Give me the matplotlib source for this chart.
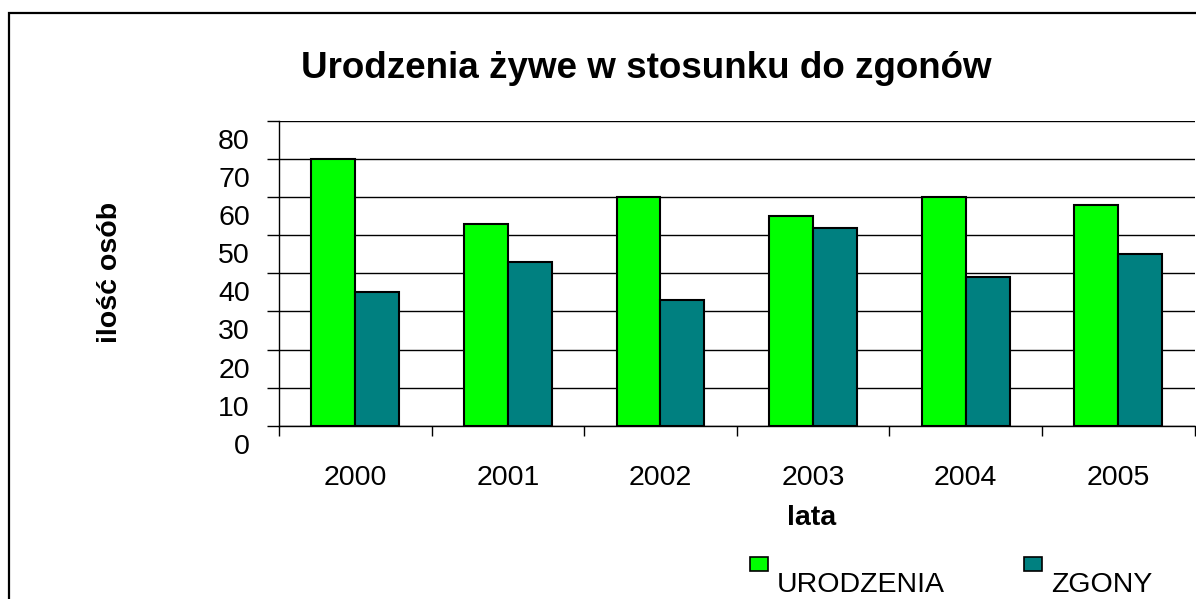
import matplotlib
matplotlib.use("Agg")
import matplotlib.pyplot as plt
from matplotlib.patches import Rectangle
from matplotlib.transforms import ScaledTranslation
import numpy as np

years = ["2000", "2001", "2002", "2003", "2004", "2005"]
urodzenia = [70, 53, 60, 55, 60, 58]
zgony = [35, 43, 33, 52, 39, 45]
series_names = ["URODZENIA", "ZGONY"]
series_colors = ["#00FF00", "#008080"]
y_ticks = [0, 10, 20, 30, 40, 50, 60, 70, 80]

plt.rcParams['font.family'] = ['Liberation Sans', 'DejaVu Sans']

W, H = 1196, 599
fig = plt.figure(figsize=(W / 100, H / 100), dpi=100)

# outer chart frame
fig.add_artist(Rectangle((8.5 / W, -0.1), 1.2, 1 - 13 / H + 0.1, transform=fig.transFigure,
                         fill=False, edgecolor='black', linewidth=1.6))

ax = fig.add_axes([279 / W, 1 - 425.7 / H, (1194.5 - 279) / W, (425.7 - 121) / H])
x = np.arange(len(years))
bw = 0.288
ax.bar(x - bw / 2, urodzenia, bw, color=series_colors[0], edgecolor='black', linewidth=1.5, zorder=3)
ax.bar(x + bw / 2, zgony, bw, color=series_colors[1], edgecolor='black', linewidth=1.5, zorder=3)

ax.set_xlim(-0.5, len(years) - 0.5)
ax.set_ylim(0, 80)
ax.set_yticks(y_ticks)
ax.set_yticklabels([str(v) for v in y_ticks], fontsize=20.5)
ax.yaxis.grid(True, color='black', linewidth=1.0, zorder=0)
ax.set_axisbelow(True)

ax.set_xticks(np.arange(-0.5, len(years), 1.0))
ax.set_xticklabels([])
ax.set_xticks(x, minor=True)
ax.set_xticklabels(years, minor=True, fontsize=20.5)
ax.tick_params(axis='x', which='major', length=7, width=1, direction='out')
ax.tick_params(axis='x', which='minor', length=0, pad=28)
ax.tick_params(axis='y', length=9, width=1, direction='out', pad=12)

# y labels sit below their gridlines in the reference
shift = ScaledTranslation(0, -18 / 100, fig.dpi_scale_trans)
for lab in ax.get_yticklabels():
    lab.set_transform(lab.get_transform() + shift)

for s in ['top', 'right']:
    ax.spines[s].set_visible(False)
ax.spines['left'].set_linewidth(1.0)
ax.spines['bottom'].set_linewidth(1.0)

fig.text(646 / W, 1 - 78 / H, "Urodzenia żywe w stosunku do zgonów", ha='center', va='baseline',
         fontsize=26.5, fontweight='bold')
fig.text(811.5 / W, 1 - 525 / H, "lata", ha='center', va='baseline', fontsize=20.5, fontweight='bold')
fig.text(110 / W, 1 - 272.5 / H, "ilość osób", ha='center', va='center', fontsize=20.5,
         fontweight='bold', rotation=90)

# legend
legend_items = [(750, 777), (1024, 1051)]
for (bx, tx), name, col in zip(legend_items, series_names, series_colors):
    fig.add_artist(Rectangle((bx / W, 1 - 571 / H), 17.5 / W, 14 / H, transform=fig.transFigure,
                             facecolor=col, edgecolor='black', linewidth=1.2))
    fig.text(tx / W, 1 - 591.7 / H, name, ha='left', va='baseline', fontsize=20.5)

fig.savefig("out.png", dpi=100)
